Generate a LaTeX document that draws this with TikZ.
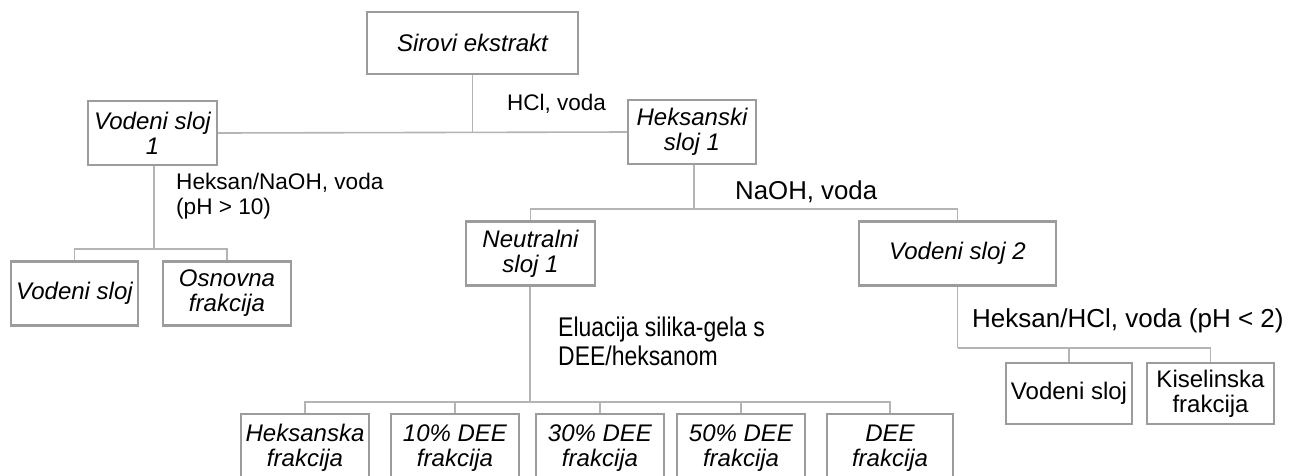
\documentclass[tikz,border=0pt]{standalone}
\usepackage{fontspec}
\setmainfont{Liberation Sans}
\newfontfamily\narrowsans[FakeStretch=0.85]{Liberation Sans}
\usepackage{xcolor}
\usepackage{tikz}
\usetikzlibrary{shapes,arrows,positioning}

\definecolor{boxgray}{HTML}{9C9C9C}
\definecolor{linegray}{HTML}{B4B4B4}

\tikzset{
    fraction/.style={
        draw=boxgray,
        line width=2.2pt,
        minimum width=128,
        minimum height=64,
        inner sep=2pt,
        align=center,
        font=\fontsize{24}{25}\selectfont\itshape
    },
    plainfraction/.style={
        fraction,
        font=\fontsize{24}{25}\selectfont
    },
    step label/.style={
        anchor=west,
        align=left,
        inner sep=0pt
    },
    link/.style={
        draw=linegray,
        line width=1.6pt
    }
}

\begin{document}
\begin{tikzpicture}[x=1pt,y=-1pt]
                \clip (0,0) rectangle (1305,475);
                \fill[white] (0,0) rectangle (1305,475);

                % boxes
                \node[fraction, minimum width=211, minimum height=62] (sirovi) at (472.5,43) {Sirovi ekstrakt};
                \node[fraction, minimum width=129] (vodeni1) at (152.5,133) {Vodeni sloj\\1};
                \node[fraction] (heksanski1) at (692,132) {Heksanski\\sloj 1};
                \node[fraction, minimum width=129] (neutralni1) at (530.5,253.5) {Neutralni\\sloj 1};
                \node[fraction, minimum width=197] (vodeni2) at (957.5,253.5) {Vodeni sloj 2};

                \node[fraction, minimum width=127] (vodeniL) at (74.5,293.5) {Vodeni sloj};
                \node[fraction] (osnovna) at (227,293.5) {Osnovna\\frakcija};

                \node[fraction, anchor=north, minimum height=68] (heksanska) at (305,413) {Heksanska\\frakcija};
                \node[fraction, anchor=north, minimum height=68] (dee10) at (455,413) {10\% DEE\\frakcija};
                \node[fraction, anchor=north, minimum height=68] (dee30) at (600,413) {30\% DEE\\frakcija};
                \node[fraction, anchor=north, minimum height=68] (dee50) at (741,413) {50\% DEE\\frakcija};
                \node[fraction, anchor=north, minimum height=68, minimum width=126] (dee) at (890,413) {DEE\\frakcija};

                \node[plainfraction, minimum width=126, minimum height=61] (vodeniR) at (1069,393.5) {Vodeni sloj};
                \node[plainfraction, minimum width=127, minimum height=61] (kiselinska) at (1210.5,393.5) {Kiselinska\\frakcija};

                % step labels
                \node[step label, font=\fontsize{22.5}{25}\selectfont] (hcl) at (507,104) {HCl, voda};
                \node[step label, font=\fontsize{22.6}{25}\selectfont] (naohL) at (176,196.5) {Heksan/NaOH, voda\\(pH > 10)};
                \node[step label, font=\fontsize{25.8}{28}\selectfont] (naoh) at (735,191.5) {NaOH, voda};
                \node[step label, font=\narrowsans\fontsize{27}{29}\selectfont] (eluacija) at (558,341.5) {Eluacija silika-gela s\\DEE/heksanom};
                \node[step label, font=\fontsize{26}{28}\selectfont] (hclR) at (972,321) {Heksan/HCl, voda (pH < 2)};

                % branch points
                \coordinate (topbranch) at (sirovi.south |- vodeni1.east);
                \coordinate (leftbranch) at (154,249);
                \coordinate (midbranch) at (694,209);
                \coordinate (lowbranch) at (530,402);
                \coordinate (rightbranch) at (958,348);

                % connectors
                \draw[link] (sirovi.south) -- (topbranch);
                \draw[link] (vodeni1.east) -- (heksanski1.west);

                \draw[link] (vodeni1.south -| leftbranch) -- (leftbranch);
                \draw[link] (vodeniL.north) -- (vodeniL.north |- leftbranch) -- (osnovna.north |- leftbranch) -- (osnovna.north);

                \draw[link] (heksanski1.south -| midbranch) -- (midbranch);
                \draw[link] (neutralni1.north) -- (neutralni1.north |- midbranch) -- (vodeni2.north |- midbranch) -- (vodeni2.north);

                \draw[link] (neutralni1.south -| lowbranch) -- (lowbranch);
                \draw[link] (heksanska.north) -- (heksanska.north |- lowbranch) -- (dee.north |- lowbranch) -- (dee.north);
                \foreach \frac in {dee10,dee30,dee50}
                    \draw[link] (\frac.north) -- (\frac.north |- lowbranch);

                \draw[link] (vodeni2.south) -- (vodeni2.south |- rightbranch);
                \draw[link] (vodeni2.south |- rightbranch) -- (kiselinska.north |- rightbranch) -- (kiselinska.north);
                \draw[link] (vodeniR.north) -- (vodeniR.north |- rightbranch);

\end{tikzpicture}
\end{document}
